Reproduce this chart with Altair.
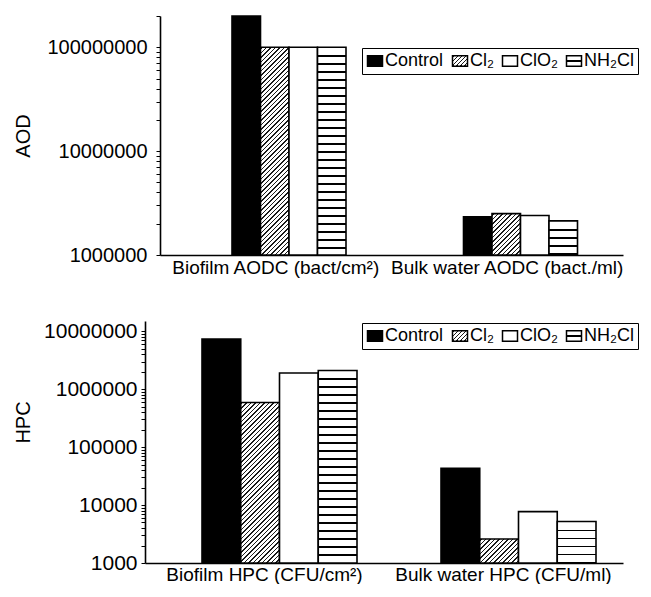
import math
import json
import altair as alt
import pandas as pd

# ---------------- data ----------------
treatments = ["Control", "Cl₂", "ClO₂", "NH₂Cl"]

aod_groups = ["Biofilm AODC (bact/cm²)", "Bulk water AODC (bact./ml)"]
aod_biofilm = [2.0e8, 1.0e8, 1.0e8, 1.0e8]
aod_bulk = [2.33e6, 2.5e6, 2.4e6, 2.13e6]

hpc_groups = ["Biofilm HPC (CFU/cm²)", "Bulk water HPC (CFU/ml)"]
hpc_biofilm = [7.3e6, 5.9e5, 1.9e6, 2.1e6]
hpc_bulk = [4.3e4, 2.6e3, 7.7e3, 5.2e3]

FONT = "Liberation Sans, Arial, Helvetica, sans-serif"


# ---------------- fill patterns (gradients) ----------------
def stripes(h, period=8.0, thick=1.8, first=None):
    stops = [{"offset": 0, "color": "white"}]
    pos = first if first is not None else period
    while pos < h - 0.8:
        a = round(pos / h, 5)
        b = round(min((pos + thick) / h, 1.0), 5)
        stops += [
            {"offset": a, "color": "white"},
            {"offset": a, "color": "black"},
            {"offset": b, "color": "black"},
            {"offset": b, "color": "white"},
        ]
        pos += period
        if first is not None:
            break
    stops.append({"offset": 1, "color": "white"})
    return {"gradient": "linear", "x1": 0, "y1": 0, "x2": 0, "y2": 1, "stops": stops}


def hatch(w, h, period=4.5, thick=1.5):
    L = w + h
    d = w * w + h * h
    x2 = round(w * L / d, 5)
    y2 = round(h * L / d, 5)
    stops = [{"offset": 0, "color": "white"}]
    pos = 1.0
    while pos < L:
        a = round(pos / L, 5)
        b = round(min((pos + thick) / L, 1.0), 5)
        stops += [
            {"offset": a, "color": "white"},
            {"offset": a, "color": "#1a1a1a"},
            {"offset": b, "color": "#1a1a1a"},
            {"offset": b, "color": "white"},
        ]
        pos += period
    stops.append({"offset": 1, "color": "white"})
    return {"gradient": "linear", "x1": 0, "y1": 0, "x2": x2, "y2": y2, "stops": stops}


def all_ticks(lo, hi):
    vals = []
    e = int(math.floor(math.log10(lo) + 1e-9))
    while 10 ** e <= hi * 1.0001:
        for m in range(1, 10):
            v = m * 10 ** e
            if lo <= v <= hi * 1.0001:
                vals.append(v)
        e += 1
    return vals


LEG_HATCH = {"expr": json.dumps(hatch(15, 10, period=4.0, thick=1.3))}
LEG_STRIPE = {"expr": json.dumps(stripes(10, thick=1.6, first=4.2))}
DECADE = "abs(log(datum.value)/LN10 - round(log(datum.value)/LN10)) < 0.001"


def panel(groups, series, ytitle, W, H, ymin, ymax, xr, off0, legx, legy,
          lab_size, title_pad, label_pad, xlab_pad, yoffset=0, title_y=None):
    rows = []
    for gi, g in enumerate(groups):
        for ti, t in enumerate(treatments):
            rows.append({"group": g, "treatment": t, "value": series[gi][ti],
                         "key": f"{gi}-{ti}"})
    df = pd.DataFrame(rows)

    bw = (off0[1] - off0[0]) / 4.0
    span = math.log10(ymax) - math.log10(ymin)
    conds = []
    for r in rows:
        h = (math.log10(r["value"]) - math.log10(ymin)) / span * H
        if r["treatment"] == "Cl₂":
            conds.append({"test": f"datum.key === '{r['key']}'", "value": hatch(bw, h)})
        elif r["treatment"] == "NH₂Cl":
            conds.append({"test": f"datum.key === '{r['key']}'", "value": stripes(h)})

    yscale = alt.Scale(type="log", domain=[ymin, ymax], nice=False, clamp=True)

    yaxis_kw = dict(values=all_ticks(ymin, ymax), format="d",
                    labelExpr="test(/^10*$/, datum.label) ? datum.label : ''",
                    labelFontSize={"condition": {"test": DECADE, "value": lab_size},
                                   "value": 0},
                    ticks=True, tickSize=4, tickColor="black", grid=False,
                    domainColor="black", domainWidth=1.6,
                    labelFont=FONT, labelColor="black", labelPadding=label_pad,
                    labelOverlap=False, offset=yoffset,
                    titleFontSize=20, titleFont=FONT,
                    titleFontWeight="normal", titleColor="black",
                    titlePadding=title_pad)
    if title_y is not None:
        yaxis_kw["titleY"] = title_y

    bars = alt.Chart(df).mark_bar(stroke="black", strokeWidth=1.6).encode(
        x=alt.X("group:N", sort=groups, title=None,
                scale=alt.Scale(range=list(xr), paddingInner=0, paddingOuter=0),
                axis=alt.Axis(labelAngle=0, ticks=False, domainColor="black",
                              domainWidth=1.6, labelFontSize=19, labelFont=FONT,
                              labelColor="black", labelPadding=xlab_pad,
                              labelLimit=400)),
        xOffset=alt.XOffset("treatment:N", sort=treatments,
                            scale=alt.Scale(range=list(off0), paddingInner=0,
                                            paddingOuter=0)),
        y=alt.Y("value:Q", scale=yscale, title=ytitle, axis=alt.Axis(**yaxis_kw)),
        fill=alt.Fill("treatment:N",
                      scale=alt.Scale(domain=treatments,
                                      range=["black", LEG_HATCH, "white", LEG_STRIPE]),
                      legend=alt.Legend(title=None, orient="none", legendX=legx,
                                        legendY=legy, direction="horizontal",
                                        symbolType="M-1,-0.7H1V0.7H-1Z",
                                        symbolSize=225, symbolStrokeColor="black",
                                        symbolStrokeWidth=1.5, symbolOpacity=1,
                                        labelFontSize=18, labelFont=FONT,
                                        labelColor="black", labelOffset=1,
                                        columnPadding=5, padding=4,
                                        strokeColor="black"),
                      condition=conds),
    ).properties(width=W, height=H)
    return bars


top = panel(aod_groups, [aod_biofilm, aod_bulk], "AOD",
            W=478, H=239, ymin=1e6, ymax=2e8, xr=(15, 478), off0=(72, 186),
            legx=217, legy=32, lab_size=20, title_pad=13, label_pad=9,
            xlab_pad=3, yoffset=-15)
bottom = panel(hpc_groups, [hpc_biofilm, hpc_bulk], "HPC",
               W=478, H=242, ymin=1e3, ymax=1.5e7, xr=(0, 478), off0=(57, 212),
               legx=217, legy=2, lab_size=21, title_pad=10, label_pad=4,
               xlab_pad=2, title_y=101)

chart = alt.concat(top, bottom, columns=1, spacing=43).resolve_scale(
    x="independent", y="independent", xOffset="independent", fill="independent"
).resolve_legend(fill="independent").configure_view(stroke=None).properties(
    padding={"left": 5, "top": 7, "right": 0, "bottom": 0}
)

chart.save("out.html", embed_options={"renderer": "svg", "actions": False})
